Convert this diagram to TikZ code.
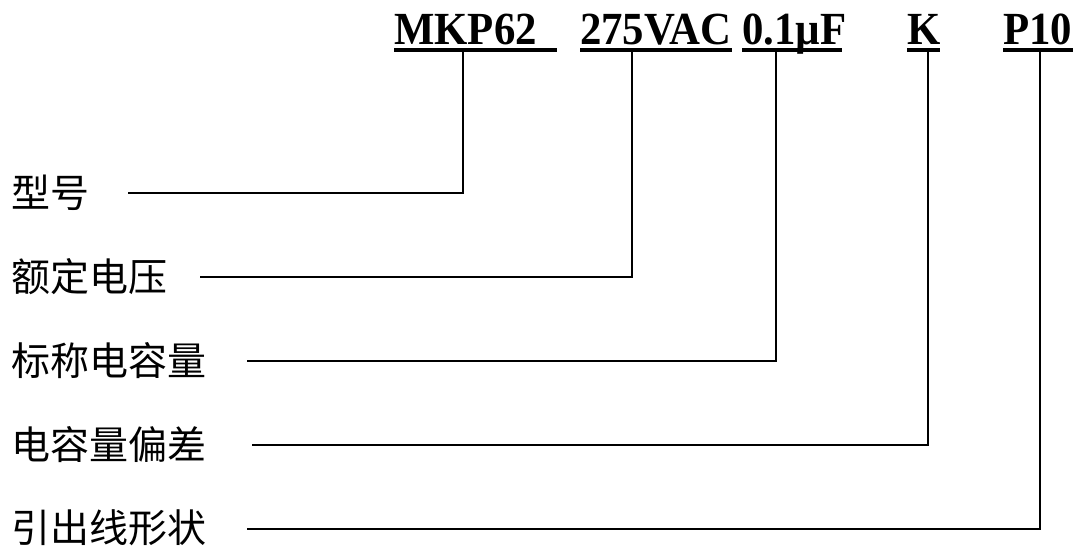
\documentclass[tikz,border=0pt]{standalone}
\usepackage{fontspec}
\newfontfamily\topfont[FakeStretch=0.93]{Liberation Serif}
\newfontfamily\cjk{Noto Sans CJK SC}
\begin{document}
\begin{tikzpicture}[x=1pt,y=-1pt,
  code/.style={inner sep=0pt,anchor=base west,font=\topfont\bfseries\fontsize{46}{50}\selectfont},
  lab/.style={inner sep=0pt,anchor=base west,font=\cjk\fontsize{39}{44}\selectfont},
  uline/.style={line width=4pt},
  conn/.style={line width=1.8pt}]
\useasboundingbox (0,0) rectangle (1074,546);
% top code
\node[code] (m) at (394,44) {MKP62};
\node[code] (v) at (580,44) {275VAC};
\node[code] (c) at (742,44) {0.1µF};
\node[code] (k) at (907,44) {K};
\node[code] (p) at (1003,44) {P10};
% underlines
\coordinate (mu1) at (394,50); \coordinate (mu2) at (557,50);
\coordinate (vu1) at (580,50); \coordinate (vu2) at (732,50);
\coordinate (cu1) at (742,50); \coordinate (cu2) at (842,50);
\coordinate (ku1) at (907,50); \coordinate (ku2) at (940,50);
\coordinate (pu1) at (1003,50); \coordinate (pu2) at (1073,50);
\draw[uline] (mu1) -- (mu2);
\draw[uline] (vu1) -- (vu2);
\draw[uline] (cu1) -- (cu2);
\draw[uline] (ku1) -- (ku2);
\draw[uline] (pu1) -- (pu2);
% connector tops
\coordinate (mt) at (463,52);
\coordinate (vt) at (632,52);
\coordinate (ct) at (776,52);
\coordinate (kt) at (928,52);
\coordinate (pt) at (1040,52);
% labels
\node[lab] (l1) at (11,207) {型号};
\node[lab] (l2) at (11,291) {额定电压};
\node[lab] (l3) at (11,375) {标称电容量};
\node[lab] (l4) at (11,459) {电容量偏差};
\node[lab] (l5) at (11,542) {引出线形状};
% line starts
\coordinate (s1) at (128,193);
\coordinate (s2) at (200,277);
\coordinate (s3) at (247,361);
\coordinate (s4) at (252,445);
\coordinate (s5) at (247,529);
\draw[conn] (mt) |- (s1);
\draw[conn] (vt) |- (s2);
\draw[conn] (ct) |- (s3);
\draw[conn] (kt) |- (s4);
\draw[conn] (pt) |- (s5);
\end{tikzpicture}
\end{document}
